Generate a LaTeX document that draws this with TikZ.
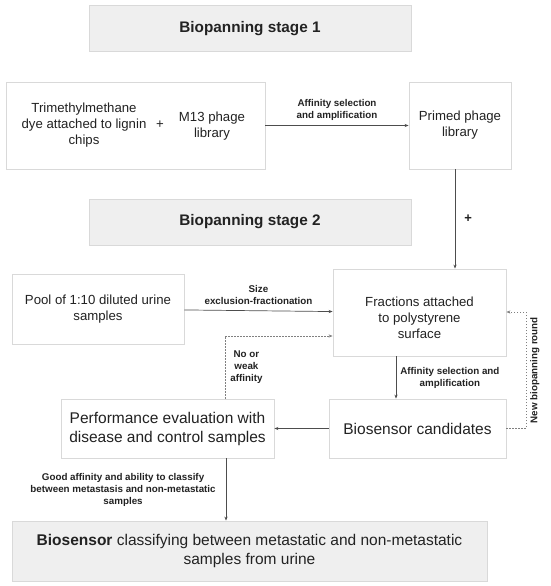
\documentclass[tikz,border=0pt]{standalone}
\usepackage{fontspec}
\setmainfont{Liberation Sans}
\usetikzlibrary{positioning, arrows.meta}
\definecolor{boxline}{HTML}{D9D9D9}
\definecolor{stagefill}{HTML}{EFEFEF}
\definecolor{linkc}{HTML}{4D4D4D}
\definecolor{txt}{HTML}{222222}

\begin{document}
\begin{tikzpicture}[x=1pt, y=-1pt, ->, >={Stealth[length=4pt, width=3.2pt]},
    stage/.style={draw=boxline, fill=stagefill, line width=0.8pt, minimum width=322pt,
      minimum height=46pt, text=txt, font=\fontsize{15.3}{18}\selectfont\bfseries},
    box/.style={draw=boxline, fill=white, line width=0.8pt, align=center, text=txt,
      inner sep=0pt, font=\fontsize{13.2}{16}\selectfont},
    bigbox/.style={box, font=\fontsize{15.5}{19}\selectfont},
    plain/.style={align=center, text=txt, font=\fontsize{13.2}{16}\selectfont},
    lbl/.style={align=center, text=txt, inner sep=1pt, font=\fontsize{9.8}{12}\selectfont\bfseries},
    link/.style={draw=linkc, line width=0.7pt},
    weak/.style={draw=gray, line width=0.7pt, dash pattern=on 1.5pt off 1.5pt}]
  \useasboundingbox (0,0) rectangle (550,586);

  % stage 1
  \node[stage] (s1) at (250,28.5) {Biopanning stage 1};
  \node[box, minimum width=259pt, minimum height=87pt] (lib) at (135.5,125.5) {};
  \node[plain] (dye) at (84,125) {Trimethylmethane\\dye attached to lignin\\chips};
  \node[plain] (plus) at (160,125) {+};
  \node[plain] (m13) at (212,126) {M13 phage\\library};
  \node[box, minimum width=102pt, minimum height=87pt] (primed) at (460,125.5) {Primed phage\\library};

  % stage 2
  \node[stage] (s2) at (250,222) {Biopanning stage 2};
  \node[box, minimum width=172pt, minimum height=70pt] (pool) at (98,309) {Pool of 1:10 diluted urine\\samples};
  \node[box, minimum width=173pt, minimum height=87pt,
    label={[plain, yshift=-5pt]center:{Fractions attached\\to polystyrene\\surface}}] (frac) at (419.5,312.5) {};
  \node[bigbox, minimum width=177pt, minimum height=59pt] (cand) at (417.5,428.5) {Biosensor candidates};
  \node[bigbox, minimum width=213pt, minimum height=59pt] (perf) at (167.5,428.5) {Performance evaluation with\\disease and control samples};
  \node[bigbox, draw=boxline, fill=stagefill, minimum width=475pt, minimum height=60pt] (sensor) at (249.5,551)
    {\textbf{Biosensor} classifying between metastatic and non-metastatic\\samples from urine};

  \coordinate (drop) at (455,0);
  \coordinate (nw) at (225,336);
  \coordinate (loop) at (526,312);
  \coordinate (down) at (396,0);
  \coordinate (out) at (226,0);

  \path[every edge/.append style=link]
        (lib) edge node[lbl, above=4pt] {Affinity selection\\and amplification} (primed)
        (pool) edge node[lbl, above=5pt] {Size\\exclusion-fractionation} (frac)
        (cand) edge (perf)
        (primed.south -| drop) edge node[lbl, right=8pt, font=\fontsize{13}{16}\selectfont\bfseries] {+} (frac.north -| drop)
        (frac.south -| down) edge node[lbl, right=3pt] {Affinity selection and\\amplification} (cand.north -| down)
        (perf.south -| out) edge node[lbl, left=9pt] {Good affinity and ability to classify\\between metastasis and non-metastatic\\samples} (sensor.north -| out);

  \draw[weak] (perf.north -| nw) -- node[lbl, right=4pt] {No or\\weak\\affinity} (nw) -- (frac.west |- nw);
  \draw[weak] (cand.east) -- (cand.east -| loop) -- node[lbl, rotate=90, anchor=north, yshift=-3pt] {New biopanning round} (loop) -- (frac.east |- loop);
\end{tikzpicture}
\end{document}
